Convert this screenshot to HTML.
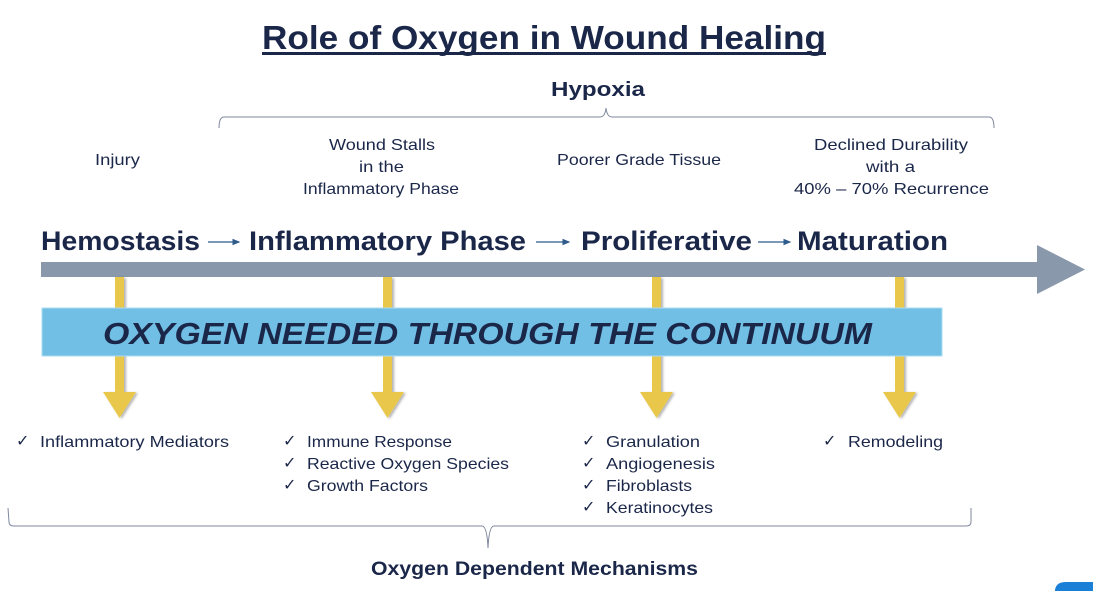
<!DOCTYPE html>
<html><head><meta charset="utf-8"><style>
html,body{margin:0;padding:0;background:#fff;width:1093px;height:591px;overflow:hidden}
svg{display:block}
text{font-family:"Liberation Sans",sans-serif;fill:#1b2749}
</style></head><body>
<svg width="1093" height="591" viewBox="0 0 1093 591" xmlns="http://www.w3.org/2000/svg">
<defs>
<marker id="sa" markerWidth="6" markerHeight="6" refX="5" refY="3" orient="auto"><path d="M0,0.5 L6,3 L0,5.5z" fill="#2e5b8c"/></marker>
<filter id="sh" x="-50%" y="-10%" width="200%" height="130%"><feDropShadow dx="2" dy="1" stdDeviation="1.2" flood-color="#000" flood-opacity="0.3"/></filter>
</defs>
<text x="262" y="49" font-size="33" font-weight="bold" textLength="564" lengthAdjust="spacingAndGlyphs">Role of Oxygen in Wound Healing</text>
<rect x="262" y="52" width="564" height="3" fill="#1b2749"/>
<text x="551" y="96" font-size="20" font-weight="bold" textLength="94" lengthAdjust="spacingAndGlyphs">Hypoxia</text>
<path d="M219,128 Q219,117 224,117 L600,117 Q605,117 606,108 Q607,117 612,117 L989,117 Q994,117 994,128" fill="none" stroke="#7d879c" stroke-width="1"/>
<g font-size="16">
<text x="95" y="165" textLength="45" lengthAdjust="spacingAndGlyphs">Injury</text>
<text x="329" y="150" textLength="106" lengthAdjust="spacingAndGlyphs">Wound Stalls</text>
<text x="359" y="172" textLength="45" lengthAdjust="spacingAndGlyphs">in the</text>
<text x="303" y="194" textLength="156" lengthAdjust="spacingAndGlyphs">Inflammatory Phase</text>
<text x="557" y="165" textLength="164" lengthAdjust="spacingAndGlyphs">Poorer Grade Tissue</text>
<text x="814" y="150" textLength="154" lengthAdjust="spacingAndGlyphs">Declined Durability</text>
<text x="866" y="172" textLength="49" lengthAdjust="spacingAndGlyphs">with a</text>
<text x="794" y="194" textLength="195" lengthAdjust="spacingAndGlyphs">40% – 70% Recurrence</text>
</g>
<g font-size="27" font-weight="bold">
<text x="41" y="250" textLength="159" lengthAdjust="spacingAndGlyphs">Hemostasis</text>
<text x="249" y="250" textLength="277" lengthAdjust="spacingAndGlyphs">Inflammatory Phase</text>
<text x="581" y="250" textLength="171" lengthAdjust="spacingAndGlyphs">Proliferative</text>
<text x="797" y="250" textLength="151" lengthAdjust="spacingAndGlyphs">Maturation</text>
</g>
<g stroke="#2e5b8c" stroke-width="1.3" marker-end="url(#sa)">
<line x1="208" y1="242" x2="239" y2="242"/>
<line x1="536" y1="242" x2="569" y2="242"/>
<line x1="758" y1="242" x2="790" y2="242"/>
</g>
<rect x="41" y="262" width="997" height="15" fill="#8a98ab"/>
<path d="M1037,245 L1085,269.5 L1037,294z" fill="#8a98ab"/>
<g fill="#e8c74c" filter="url(#sh)">
<path d="M115,277 h9 v115 h12 l-16.5,26 l-16.5,-26 h12z"/>
<path d="M383,277 h9 v115 h12 l-16.5,26 l-16.5,-26 h12z"/>
<path d="M652,277 h9 v115 h12 l-16.5,26 l-16.5,-26 h12z"/>
<path d="M895,277 h9 v115 h12 l-16.5,26 l-16.5,-26 h12z"/>
</g>
<rect x="42" y="308" width="900" height="48" fill="#72bfe5" stroke="#a9dcf2" stroke-width="1"/>
<text x="103" y="344" font-size="31" font-weight="bold" font-style="italic" textLength="769" lengthAdjust="spacingAndGlyphs">OXYGEN NEEDED THROUGH THE CONTINUUM</text>
<g font-size="16">
<text x="16" y="446">✓</text><text x="40" y="447" textLength="189" lengthAdjust="spacingAndGlyphs">Inflammatory Mediators</text>
<text x="283" y="446">✓</text><text x="307" y="447" textLength="145" lengthAdjust="spacingAndGlyphs">Immune Response</text>
<text x="283" y="468">✓</text><text x="307" y="469" textLength="202" lengthAdjust="spacingAndGlyphs">Reactive Oxygen Species</text>
<text x="283" y="490">✓</text><text x="307" y="491" textLength="121" lengthAdjust="spacingAndGlyphs">Growth Factors</text>
<text x="582" y="446">✓</text><text x="606" y="447" textLength="94" lengthAdjust="spacingAndGlyphs">Granulation</text>
<text x="582" y="468">✓</text><text x="606" y="469" textLength="109" lengthAdjust="spacingAndGlyphs">Angiogenesis</text>
<text x="582" y="490">✓</text><text x="606" y="491" textLength="86" lengthAdjust="spacingAndGlyphs">Fibroblasts</text>
<text x="582" y="512">✓</text><text x="606" y="513" textLength="107" lengthAdjust="spacingAndGlyphs">Keratinocytes</text>
<text x="823" y="446">✓</text><text x="848" y="447" textLength="95" lengthAdjust="spacingAndGlyphs">Remodeling</text>
</g>
<path d="M8,508 L9,522 Q9,526 14,526 L482,526 Q487,526 488,548 Q489,526 494,526 L966,526 Q971,526 971,522 L971,508" fill="none" stroke="#7d879c" stroke-width="1"/>
<text x="371" y="575" font-size="19" font-weight="bold" textLength="327" lengthAdjust="spacingAndGlyphs">Oxygen Dependent Mechanisms</text>
<path d="M1055,591 L1055,590 Q1056,582 1066,582 L1093,582 L1093,591z" fill="#1a7fd6"/>
</svg>
</body></html>
